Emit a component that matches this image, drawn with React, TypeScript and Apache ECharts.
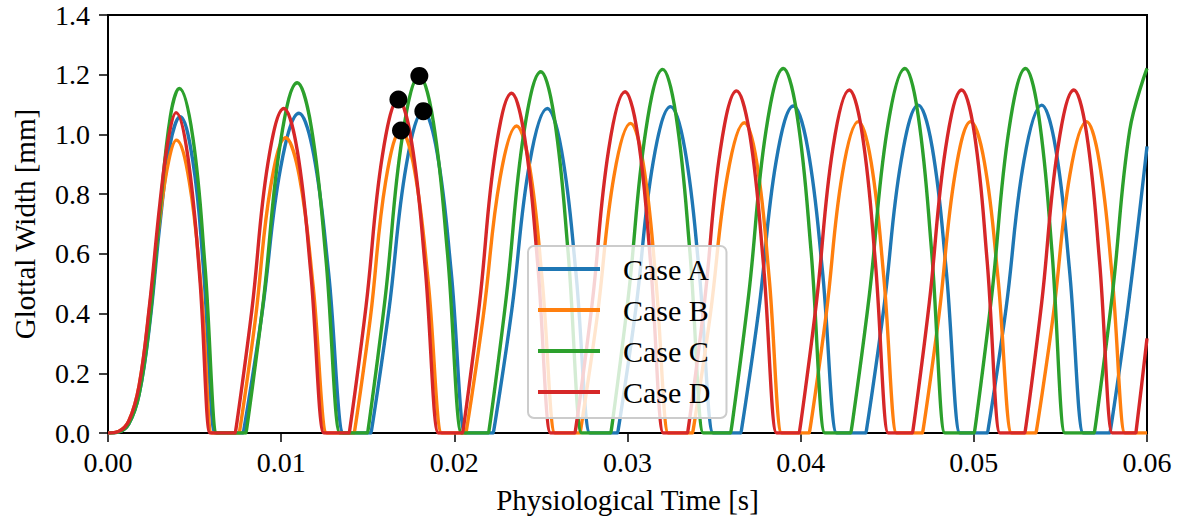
import React, { useEffect, useRef } from "react";
import * as echarts from "echarts";

// Axis ranges / ticks
const xTicks = [0, 0.01, 0.02, 0.03, 0.04, 0.05, 0.06];
const yTicks = [0, 0.2, 0.4, 0.6, 0.8, 1.0, 1.2, 1.4];

const seriesNames = ["Case A", "Case B", "Case C", "Case D"];
const seriesColors = ["#1f77b4", "#ff7f0e", "#2ca02c", "#d62728"];

// Case A (blue): [time s, width mm]
const caseA: [number, number][] = [
  [0, 0], [0.0006, 0.003], [0.0012, 0.03], [0.0018, 0.13], [0.0024, 0.36], [0.003, 0.7], [0.0036, 0.97], [0.00416, 1.059], [0.0049, 0.91], [0.0055, 0.56], [0.00618, 0], [0.00622, 0],
  [0.00781, 0], [0.00785, 0], [0.00891, 0.407], [0.00997, 0.889], [0.01103, 1.071], [0.01188, 0.932], [0.01274, 0.536], [0.01359, 0], [0.01363, 0],
  [0.01519, 0], [0.01523, 0], [0.01622, 0.41], [0.01722, 0.895], [0.01821, 1.078], [0.01901, 0.938], [0.01982, 0.539], [0.02062, 0], [0.02066, 0],
  [0.02225, 0], [0.02229, 0], [0.02332, 0.413], [0.02434, 0.902], [0.02537, 1.087], [0.02619, 0.946], [0.02701, 0.544], [0.02783, 0], [0.02787, 0],
  [0.02943, 0], [0.02947, 0], [0.03048, 0.415], [0.03148, 0.907], [0.03249, 1.093], [0.03331, 0.951], [0.03413, 0.547], [0.03495, 0], [0.03499, 0],
  [0.03655, 0], [0.03659, 0], [0.03759, 0.416], [0.03858, 0.909], [0.03958, 1.095], [0.04041, 0.953], [0.04125, 0.548], [0.04208, 0], [0.04212, 0],
  [0.04377, 0], [0.04381, 0], [0.0448, 0.417], [0.0458, 0.911], [0.04679, 1.098], [0.0476, 0.955], [0.0484, 0.549], [0.0492, 0], [0.04924, 0],
  [0.05079, 0], [0.05083, 0], [0.05186, 0.417], [0.05289, 0.911], [0.05392, 1.098], [0.05472, 0.955], [0.05552, 0.549], [0.05632, 0], [0.05636, 0],
  [0.05786, 0], [0.0579, 0], [0.0589, 0.42], [0.06, 0.96],
];

// Case B (orange)
const caseB: [number, number][] = [
  [0, 0], [0.0006, 0.005], [0.0012, 0.04], [0.0018, 0.16], [0.0024, 0.42], [0.003, 0.72], [0.0035, 0.91], [0.00395, 0.981], [0.0047, 0.84], [0.0054, 0.47], [0.00599, 0], [0.00603, 0],
  [0.00758, 0], [0.00762, 0], [0.0085, 0.376], [0.00938, 0.821], [0.01026, 0.989], [0.01105, 0.86], [0.01184, 0.495], [0.01263, 0], [0.01267, 0],
  [0.01422, 0], [0.01426, 0], [0.01515, 0.385], [0.01603, 0.841], [0.01692, 1.013], [0.0177, 0.881], [0.01849, 0.507], [0.01927, 0], [0.01931, 0],
  [0.02067, 0], [0.02071, 0], [0.02167, 0.391], [0.02264, 0.853], [0.0236, 1.028], [0.02434, 0.894], [0.02507, 0.514], [0.02581, 0], [0.02585, 0],
  [0.02726, 0], [0.0273, 0], [0.02826, 0.394], [0.02922, 0.861], [0.03018, 1.037], [0.03091, 0.902], [0.03163, 0.519], [0.03236, 0], [0.0324, 0],
  [0.03376, 0], [0.0338, 0], [0.03478, 0.395], [0.03577, 0.862], [0.03675, 1.039], [0.03747, 0.904], [0.03818, 0.52], [0.0389, 0], [0.03894, 0],
  [0.0405, 0], [0.04054, 0], [0.04147, 0.396], [0.0424, 0.866], [0.04333, 1.043], [0.04407, 0.907], [0.0448, 0.522], [0.04554, 0], [0.04558, 0],
  [0.04704, 0], [0.04708, 0], [0.04799, 0.396], [0.04891, 0.866], [0.04982, 1.043], [0.05061, 0.907], [0.05139, 0.522], [0.05218, 0], [0.05222, 0],
  [0.05359, 0], [0.05363, 0], [0.05459, 0.396], [0.05555, 0.866], [0.05651, 1.043], [0.05725, 0.907], [0.05799, 0.522], [0.05873, 0], [0.05877, 0],
  [0.06, 0],
];

// Case C (green)
const caseC: [number, number][] = [
  [0, 0], [0.0006, 0.003], [0.0012, 0.03], [0.0018, 0.13], [0.0024, 0.37], [0.003, 0.74], [0.0036, 1.06], [0.00412, 1.154], [0.0049, 0.99], [0.0056, 0.56], [0.00628, 0], [0.00632, 0],
  [0.00797, 0], [0.00801, 0], [0.00898, 0.446], [0.00996, 0.974], [0.01093, 1.173], [0.01175, 1.021], [0.01258, 0.587], [0.0134, 0], [0.01344, 0],
  [0.01499, 0], [0.01503, 0], [0.01601, 0.454], [0.017, 0.993], [0.01798, 1.196], [0.01879, 1.041], [0.01961, 0.598], [0.02042, 0], [0.02046, 0],
  [0.02198, 0], [0.02202, 0], [0.02301, 0.46], [0.02401, 1.004], [0.025, 1.21], [0.02578, 1.053], [0.02657, 0.605], [0.02735, 0], [0.02739, 0],
  [0.02904, 0], [0.02908, 0], [0.03006, 0.463], [0.03105, 1.011], [0.03203, 1.218], [0.03281, 1.06], [0.0336, 0.609], [0.03438, 0], [0.03442, 0],
  [0.03596, 0], [0.036, 0], [0.037, 0.464], [0.038, 1.013], [0.039, 1.221], [0.0398, 1.062], [0.0406, 0.61], [0.0414, 0], [0.04144, 0],
  [0.0429, 0], [0.04294, 0], [0.04397, 0.464], [0.04499, 1.013], [0.04602, 1.221], [0.04679, 1.062], [0.04756, 0.61], [0.04833, 0], [0.04837, 0],
  [0.05003, 0], [0.05007, 0], [0.05104, 0.464], [0.05202, 1.013], [0.05299, 1.221], [0.05375, 1.062], [0.05451, 0.61], [0.05526, 0], [0.0553, 0],
  [0.05696, 0], [0.057, 0], [0.058, 0.464], [0.059, 1.013], [0.06, 1.221],
];

// Case D (red)
const caseD: [number, number][] = [
  [0, 0], [0.0006, 0.005], [0.0012, 0.04], [0.0018, 0.16], [0.0024, 0.43], [0.003, 0.77], [0.0035, 0.99], [0.00393, 1.073], [0.0046, 0.93], [0.0053, 0.52], [0.00589, 0], [0.00593, 0],
  [0.00735, 0], [0.00739, 0], [0.00831, 0.413], [0.00923, 0.902], [0.01016, 1.087], [0.01093, 0.946], [0.0117, 0.544], [0.01247, 0], [0.01251, 0],
  [0.01393, 0], [0.01397, 0], [0.0149, 0.424], [0.01584, 0.927], [0.01677, 1.117], [0.01754, 0.972], [0.01831, 0.559], [0.01908, 0], [0.01912, 0],
  [0.02048, 0], [0.02052, 0], [0.02145, 0.432], [0.02238, 0.945], [0.02331, 1.138], [0.02406, 0.99], [0.02481, 0.569], [0.02556, 0], [0.0256, 0],
  [0.02697, 0], [0.02701, 0], [0.02796, 0.434], [0.02891, 0.949], [0.02986, 1.143], [0.0306, 0.994], [0.03133, 0.572], [0.03207, 0], [0.03211, 0],
  [0.03347, 0], [0.03351, 0], [0.03444, 0.435], [0.03537, 0.951], [0.0363, 1.146], [0.03707, 0.997], [0.03784, 0.573], [0.03861, 0], [0.03865, 0],
  [0.03992, 0], [0.03996, 0], [0.04091, 0.437], [0.04186, 0.954], [0.04281, 1.149], [0.04356, 1.0], [0.04431, 0.575], [0.04506, 0], [0.0451, 0],
  [0.04646, 0], [0.0465, 0], [0.04743, 0.437], [0.04837, 0.954], [0.0493, 1.149], [0.05004, 1.0], [0.05077, 0.575], [0.05151, 0], [0.05155, 0],
  [0.05295, 0], [0.05299, 0], [0.05392, 0.437], [0.05485, 0.954], [0.05578, 1.149], [0.05652, 1.0], [0.05726, 0.575], [0.058, 0], [0.05804, 0],
  [0.05936, 0], [0.0594, 0], [0.06, 0.317],
];

// Marked points (black dots) on the third cycle peaks
const markedPoints: [number, number][] = [
  [0.01677, 1.117],
  [0.01692, 1.013],
  [0.01798, 1.196],
  [0.01821, 1.078],
];

const seriesData = [caseA, caseB, caseC, caseD];

const FONT = "'Liberation Serif', 'Times New Roman', serif";

export default function App() {
  const ref = useRef<HTMLDivElement>(null);
  useEffect(() => {
    if (!ref.current) return;
    const chart = echarts.init(ref.current, undefined, { renderer: "svg" });
    const lineSeries = seriesNames.map((name, i) => ({
      name,
      type: "line",
      data: seriesData[i],
      smooth: 0.4,
      showSymbol: false,
      symbol: "none",
      lineStyle: { color: seriesColors[i], width: 3.4 },
      itemStyle: { color: seriesColors[i] },
      clip: true,
      z: 2 + i,
    }));
    chart.setOption({
      animation: false,
      backgroundColor: "#ffffff",
      grid: {
        left: 108,
        right: 35,
        top: 15,
        bottom: 87,
        show: true,
        borderColor: "#000",
        borderWidth: 2,
        backgroundColor: "transparent",
      },
      xAxis: {
        type: "value",
        min: xTicks[0],
        max: xTicks[xTicks.length - 1],
        interval: 0.01,
        name: "Physiological Time [s]",
        nameLocation: "middle",
        nameGap: 52,
        nameTextStyle: { fontFamily: FONT, fontSize: 29, color: "#000" },
        axisLine: { show: true, lineStyle: { color: "#000", width: 2 } },
        axisTick: { show: true, inside: false, length: 9, lineStyle: { color: "#000", width: 1.5 } },
        axisLabel: {
          margin: 15,
          fontFamily: FONT,
          fontSize: 28,
          color: "#000",
          formatter: (v: number) => v.toFixed(2),
        },
        splitLine: { show: false },
      },
      yAxis: {
        type: "value",
        min: yTicks[0],
        max: yTicks[yTicks.length - 1],
        interval: 0.2,
        name: "Glottal Width [mm]",
        nameLocation: "middle",
        nameGap: 69,
        nameTextStyle: { fontFamily: FONT, fontSize: 29, color: "#000" },
        axisLine: { show: true, lineStyle: { color: "#000", width: 2 } },
        axisTick: { show: true, inside: false, length: 9, lineStyle: { color: "#000", width: 1.5 } },
        axisLabel: {
          margin: 18,
          fontFamily: FONT,
          fontSize: 28,
          color: "#000",
          formatter: (v: number) => v.toFixed(1),
        },
        splitLine: { show: false },
      },
      legend: {
        data: seriesNames,
        orient: "vertical",
        left: 528,
        top: 246,
        padding: [8, 16, 11, 10],
        itemWidth: 62,
        itemHeight: 4,
        itemGap: 11,
        icon: "rect",
        backgroundColor: "rgba(255,255,255,0.8)",
        borderColor: "#cccccc",
        borderWidth: 2,
        borderRadius: 6,
        textStyle: { fontFamily: FONT, fontSize: 30, color: "#000", padding: [0, 0, 0, 18] },
        z: 20,
      },
      series: [
        ...lineSeries,
        {
          name: "peaks",
          type: "scatter",
          data: markedPoints,
          symbol: "circle",
          symbolSize: 18,
          itemStyle: { color: "#000", opacity: 1 },
          z: 10,
        },
      ],
    });
    return () => chart.dispose();
  }, []);
  return (
    <div
      ref={ref}
      style={{ position: "fixed", left: 0, top: 0, width: 1182, height: 520 }}
    />
  );
}
